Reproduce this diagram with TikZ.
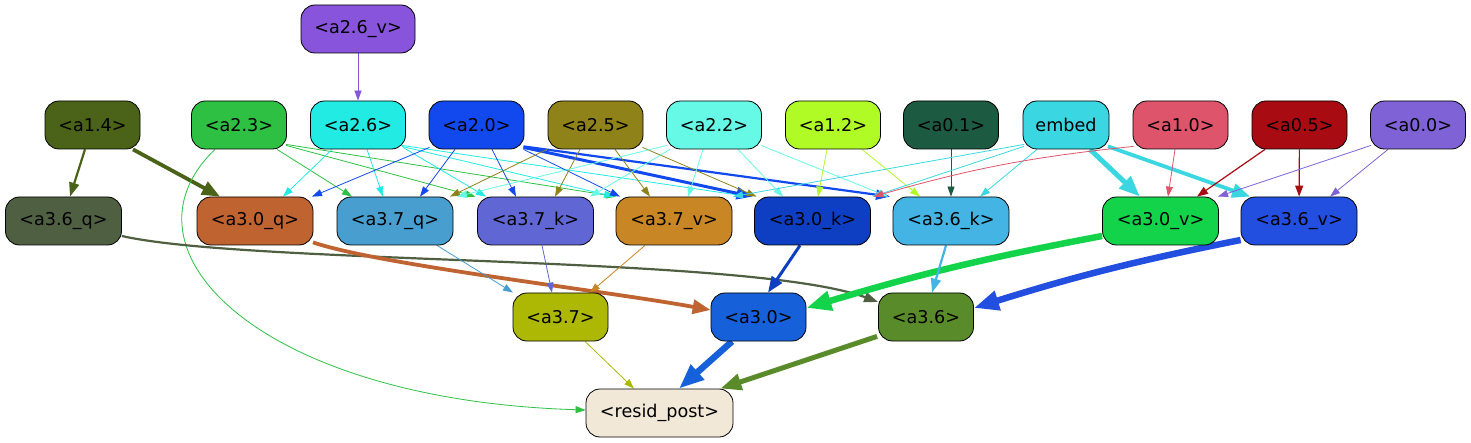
\documentclass[tikz,border=0pt]{standalone}
\usepackage{fontspec}
\setmainfont{DejaVu Sans}
\usetikzlibrary{arrows.meta,backgrounds}
\definecolor{cA26v}{HTML}{8854DB}
\definecolor{cA14}{HTML}{4A6319}
\definecolor{cA23}{HTML}{2EC043}
\definecolor{cA26}{HTML}{21EBE3}
\definecolor{cA20}{HTML}{1249EF}
\definecolor{cA25}{HTML}{8E8218}
\definecolor{cA22}{HTML}{66F9E6}
\definecolor{cA12}{HTML}{B0FB25}
\definecolor{cA01}{HTML}{1D5A42}
\definecolor{cEmb}{HTML}{3AD7E2}
\definecolor{cA10}{HTML}{DE546B}
\definecolor{cA05}{HTML}{A80B11}
\definecolor{cA00}{HTML}{7F62D6}
\definecolor{cA36q}{HTML}{4F5F41}
\definecolor{cA30q}{HTML}{BF6331}
\definecolor{cA37q}{HTML}{479ECF}
\definecolor{cA37k}{HTML}{6067D4}
\definecolor{cA37v}{HTML}{C88624}
\definecolor{cA30k}{HTML}{0E3FC2}
\definecolor{cA36k}{HTML}{43B4E3}
\definecolor{cA30v}{HTML}{13D34B}
\definecolor{cA36v}{HTML}{234FE0}
\definecolor{cA37}{HTML}{ACB803}
\definecolor{cA30}{HTML}{1661DA}
\definecolor{cA36}{HTML}{5A8B2A}
\definecolor{cRes}{HTML}{F1E8D8}
\tikzset{
  box/.style={draw=black, line width=0.8pt, rounded corners=14pt, minimum height=48pt,
    inner sep=0pt, font=\fontsize{17.6}{20}\selectfont, text=black},
  wa/.style={minimum width=95pt},
  wb/.style={minimum width=116pt},
  ea/.style={line width=0.8pt, -{Triangle[length=10pt,width=7pt]}},
  eb/.style={line width=1.2pt, -{Triangle[length=11pt,width=8pt]}},
  ec/.style={line width=2.2pt, -{Triangle[length=14pt,width=10pt]}},
  ed/.style={line width=3pt, -{Triangle[length=16pt,width=12pt]}},
  ee/.style={line width=3.8pt, -{Triangle[length=18pt,width=14pt]}},
  ef/.style={line width=5pt, -{Triangle[length=21pt,width=16pt]}},
  eg/.style={line width=6.5pt, -{Triangle[length=25pt,width=19pt]}},
}
\begin{document}
\begin{tikzpicture}[x=1pt,y=-1pt]
\useasboundingbox (0,0) rectangle (1471,443);
% nodes
\node[box,minimum width=114pt,fill=cA26v] (a26v) at (358,29) {<a2.6\_v>};
\node[box,wa,fill=cA14] (a14) at (92.5,125) {<a1.4>};
\node[box,wa,fill=cA23] (a23) at (239,125) {<a2.3>};
\node[box,wa,fill=cA26] (a26) at (358,125) {<a2.6>};
\node[box,wa,fill=cA20] (a20) at (476.5,125) {<a2.0>};
\node[box,wa,fill=cA25] (a25) at (595.5,125) {<a2.5>};
\node[box,wa,fill=cA22] (a22) at (714,125) {<a2.2>};
\node[box,wa,fill=cA12] (a12) at (833,125) {<a1.2>};
\node[box,wa,fill=cA01] (a01) at (951,125) {<a0.1>};
\node[box,minimum width=86pt,fill=cEmb] (emb) at (1066,125) {embed};
\node[box,wa,fill=cA10] (a10) at (1180.5,125) {<a1.0>};
\node[box,wa,fill=cA05] (a05) at (1299.5,125) {<a0.5>};
\node[box,wa,fill=cA00] (a00) at (1418,125) {<a0.0>};
\node[box,wb,fill=cA36q] (a36q) at (63.5,221) {<a3.6\_q>};
\node[box,wb,fill=cA30q] (a30q) at (255,221) {<a3.0\_q>};
\node[box,wb,fill=cA37q] (a37q) at (395,221) {<a3.7\_q>};
\node[box,wb,fill=cA37k] (a37k) at (535.5,221) {<a3.7\_k>};
\node[box,wb,fill=cA37v] (a37v) at (674,221) {<a3.7\_v>};
\node[box,wb,fill=cA30k] (a30k) at (812.5,221) {<a3.0\_k>};
\node[box,wb,fill=cA36k] (a36k) at (951,221) {<a3.6\_k>};
\node[box,wb,fill=cA30v] (a30v) at (1160.5,221) {<a3.0\_v>};
\node[box,wb,fill=cA36v] (a36v) at (1299,221) {<a3.6\_v>};
\node[box,wa,fill=cA37] (a37) at (560.5,317) {<a3.7>};
\node[box,wa,fill=cA30] (a30) at (758.5,317) {<a3.0>};
\node[box,wa,fill=cA36] (a36) at (926,317) {<a3.6>};
\node[box,minimum width=147pt,fill=cRes] (res) at (659.5,413) {<resid\_post>};
% edges
\begin{scope}[on background layer]
\draw[ea,cA26v] (a26v) -- (a26);
\draw[ec,cA14] ([xshift=-7.5pt]a14.south) -- ([xshift=6.5pt]a36q.north);
\draw[ee,cA14] ([xshift=40.5pt]a14.south) -- ([xshift=-35pt]a30q.north);
\draw[ea,cA23] ([xshift=-24pt]a23.south) .. controls (110,250) and (260,400) .. ([yshift=3pt]res.west);
\draw[ea,cA23] ([xshift=38pt]a23.south) -- ([xshift=-43pt]a37q.north);
\draw[ea,cA23] ([xshift=47pt,yshift=4pt]a23.south) -- ([xshift=-60pt]a37k.north);
\draw[ea,cA23] ([xshift=47pt,yshift=5pt]a23.south) -- ([xshift=-58pt]a37v.north);
\draw[ea,cA26] ([xshift=-26pt]a26.south) -- ([xshift=28pt]a30q.north);
\draw[ea,cA26] ([xshift=9pt]a26.south) -- ([xshift=-12pt]a37q.north);
\draw[ea,cA26] ([xshift=45pt,yshift=2pt]a26.south) -- ([xshift=-49.5pt]a37k.north);
\draw[ea,cA26] ([xshift=44pt,yshift=3pt]a26.south) -- ([xshift=-60pt]a37v.north);
\draw[ea,cA26] ([xshift=44pt,yshift=4pt]a26.south) -- ([xshift=-64pt]a30k.north);
\draw[ea,cA20] ([xshift=-47pt,yshift=2pt]a20.south) -- ([xshift=57pt]a30q.north);
\draw[ea,cA20] ([xshift=-21.5pt]a20.south) -- ([xshift=25pt]a37q.north);
\draw[ea,cA20] ([xshift=15.5pt]a20.south) -- ([xshift=-19.5pt]a37k.north);
\draw[ea,cA20] ([xshift=47pt]a20.south) -- ([xshift=-54pt]a37v.north);
\draw[ed,cA20] ([xshift=47pt,yshift=2pt]a20.south) -- ([xshift=-60pt]a30k.north);
\draw[ec,cA20] ([xshift=47pt,yshift=3pt]a20.south) -- ([xshift=-61pt]a36k.north);
\draw[ea,cA25] ([xshift=-48.5pt]a25.south) -- ([xshift=55pt]a37q.north);
\draw[ea,cA25] ([xshift=-15.5pt]a25.south) -- ([xshift=19.5pt]a37k.north);
\draw[ea,cA25] ([xshift=19.5pt]a25.south) -- ([xshift=-24pt]a37v.north);
\draw[ea,cA25] ([xshift=47pt,yshift=2pt]a25.south) -- ([xshift=-56pt]a30k.north);
\draw[ea,cA22] ([xshift=-47pt,yshift=4pt]a22.south) -- ([xshift=62pt]a37q.north);
\draw[ea,cA22] ([xshift=-44pt]a22.south) -- ([xshift=54.5pt]a37k.north);
\draw[ea,cA22] ([xshift=-11pt]a22.south) -- ([xshift=14pt]a37v.north);
\draw[ea,cA22] ([xshift=24pt]a22.south) -- ([xshift=-29.5pt]a30k.north);
\draw[ea,cA22] ([xshift=47pt,yshift=4pt]a22.south) -- ([xshift=-63pt]a36k.north);
\draw[ea,cA12] ([xshift=-6pt]a12.south) -- ([xshift=5.5pt]a30k.north);
\draw[ea,cA12] ([xshift=29pt]a12.south) -- ([xshift=-31pt]a36k.north);
\draw[ea,cA01] (a01) -- (a36k);
\draw[ea,cEmb] ([xshift=-42pt,yshift=5pt]emb.south) -- ([xshift=59pt]a37v.north);
\draw[ea,cEmb] ([xshift=-42pt,yshift=3pt]emb.south) -- ([xshift=60pt]a30k.north);
\draw[ea,cEmb] ([xshift=-29pt]emb.south) -- ([xshift=29pt]a36k.north);
\draw[ef,cEmb] ([xshift=24pt]emb.south) -- ([xshift=-20.5pt]a30v.north);
\draw[ee,cEmb] ([xshift=42pt,yshift=3pt]emb.south) -- ([xshift=-49pt]a36v.north);
\draw[ea,cA10] ([xshift=-47pt,yshift=3pt]a10.south) to[bend right=5] ([xshift=61pt]a30k.north);
\draw[ea,cA10] ([xshift=-5.5pt]a10.south) -- ([xshift=7.5pt]a30v.north);
\draw[eb,cA05] ([xshift=-34.5pt]a05.south) -- ([xshift=36.5pt]a30v.north);
\draw[eb,cA05] (a05) -- (a36v);
\draw[ea,cA00] ([xshift=-47pt,yshift=4pt]a00.south) -- ([xshift=57.5pt]a30v.north);
\draw[ea,cA00] ([xshift=-30pt]a00.south) -- ([xshift=31pt]a36v.north);
\draw[ec,cA36q] ([yshift=-15pt]a36q.east) .. controls (250,265) and (750,255) .. ([yshift=15pt]a36.west);
\draw[ee,cA30q] ([xshift=58pt,yshift=3pt]a30q.south) .. controls (380,265) and (600,290) .. ([yshift=7pt]a30.west);
\draw[ea,cA37q] ([xshift=42pt]a37q.south) -- ([xshift=-47.5pt]a37.north);
\draw[ea,cA37k] ([xshift=6.5pt]a37k.south) -- ([xshift=-8.5pt]a37.north);
\draw[ea,cA37v] ([xshift=-29pt]a37v.south) -- ([xshift=29.5pt]a37.north);
\draw[ed,cA30k] ([xshift=-12.5pt]a30k.south) -- ([xshift=9.5pt]a30.north);
\draw[eg,cA30v] ([yshift=-15pt]a30v.west) to[bend right=3] ([yshift=9pt]a30.east);
\draw[ec,cA36k] ([xshift=-5pt]a36k.south) -- ([xshift=6pt]a36.north);
\draw[eg,cA36v] ([yshift=-19pt]a36v.west) to[bend right=3] ([yshift=9pt]a36.east);
\draw[ea,cA37] ([xshift=24.5pt]a37.south) -- ([xshift=-25.5pt]res.north);
\draw[eg,cA30] ([xshift=-26.5pt]a30.south) -- ([xshift=19.5pt]res.north);
\draw[ef,cA36] ([xshift=-1pt,yshift=5pt]a36.south west) -- ([xshift=-13pt]res.north east);
\end{scope}
\end{tikzpicture}
\end{document}
